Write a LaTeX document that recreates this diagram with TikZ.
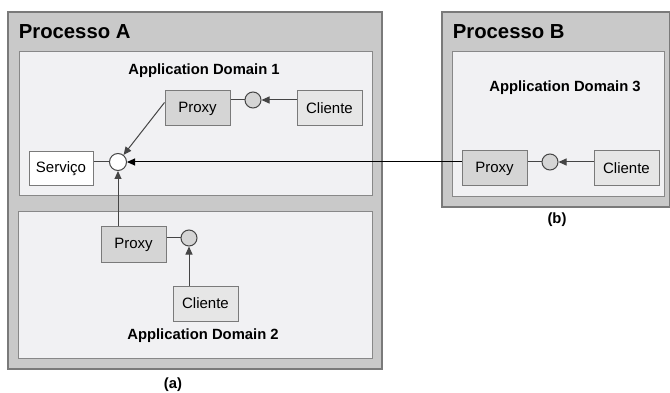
\documentclass[tikz,border=0pt]{standalone}
\usepackage{fontspec}
\setmainfont{Liberation Sans}
\usetikzlibrary{arrows.meta}

\definecolor{procfill}{HTML}{C9C9C9}
\definecolor{procline}{HTML}{7A7A7A}
\definecolor{domfill}{HTML}{F1F1F3}
\definecolor{domline}{HTML}{888888}
\definecolor{proxyfill}{HTML}{D5D5D5}
\definecolor{clientfill}{HTML}{E6E6E6}
\definecolor{wire}{HTML}{454545}

\begin{document}
\begin{tikzpicture}[x=1pt, y=-1pt, line width=1pt, >={Triangle[length=8pt,width=7pt]},
  procbox/.style={fill=procfill, draw=procline, line width=1.4pt},
  dombox/.style={fill=domfill, draw=domline},
  unitbox/.style={draw=procline, minimum width=65pt, minimum height=35pt, inner sep=0pt, font=\fontsize{15}{17}\selectfont},
  proxybox/.style={unitbox, fill=proxyfill},
  clientbox/.style={unitbox, fill=clientfill},
  svcbox/.style={unitbox, fill=white, minimum width=64pt, minimum height=34pt},
  port/.style={circle, draw=wire, fill=proxyfill, minimum size=16pt, inner sep=0pt},
  svcport/.style={port, fill=white, minimum size=17pt},
  title/.style={font=\fontsize{20.3}{23}\selectfont\bfseries, anchor=west},
  domlabel/.style={font=\fontsize{14.8}{17}\selectfont\bfseries},
  wire/.style={draw=wire}]
\useasboundingbox (0,0) rectangle (670,393);

% processo A
\draw[procbox] (8,12) rectangle (382,369);
\node[title] (titA) at (15,32) {Processo A};
\draw[dombox] (19,52) rectangle (372,196);
\draw[dombox] (18,212) rectangle (372,358);
\node[domlabel] (ad1) at (204,71) {Application Domain 1};
\node[domlabel] (ad2) at (203,336) {Application Domain 2};
\node[domlabel] (la) at (173,385) {(a)};

% processo B
\draw[procbox] (442,12) rectangle (669.3,207);
\node[title] (titB) at (449,32) {Processo B};
\draw[dombox] (452,52) rectangle (664,197);
\node[domlabel] (ad3) at (565,88) {Application Domain 3};
\node[domlabel] (lb) at (557,220) {(b)};

% domain 1
\node[svcbox] (svc) at (61,169) {Serviço};
\node[svcport] (pA) at (118,162) {};
\node[proxybox] (proxy1) at (197.5,108.5) {Proxy};
\node[port] (p1) at (253,100) {};
\node[clientbox] (cli1) at (329.5,108.5) {Cliente};

% domain 2
\node[proxybox] (proxy2) at (133.5,244.5) {Proxy};
\node[port] (p2) at (189,238) {};
\node[clientbox] (cli2) at (205.5,303.5) {Cliente};

% domain 3
\node[proxybox] (proxy3) at (494.5,168.5) {Proxy};
\node[port] (p3) at (550,162) {};
\node[clientbox] (cli3) at (626.5,168.5) {Cliente};

% ligacoes
\draw[wire] (svc.east |- pA) -- (pA);
\draw[wire] (p1 -| proxy1.east) -- (p1);
\draw[wire, ->] (cli1.west |- p1) -- (p1);
\draw[wire, ->] ([yshift=6pt]proxy1.west) -- (pA);
\draw[wire] (p2 -| proxy2.east) -- (p2);
\draw[wire, ->] (cli2.north -| p2) -- (p2);
\draw[wire, ->] (proxy2.north -| pA) -- (pA);
\draw[wire] (p3 -| proxy3.east) -- (p3);
\draw[wire, ->] (cli3.west |- p3) -- (p3);
\draw[->] (pA -| proxy3.west) -- (pA);
\end{tikzpicture}
\end{document}
